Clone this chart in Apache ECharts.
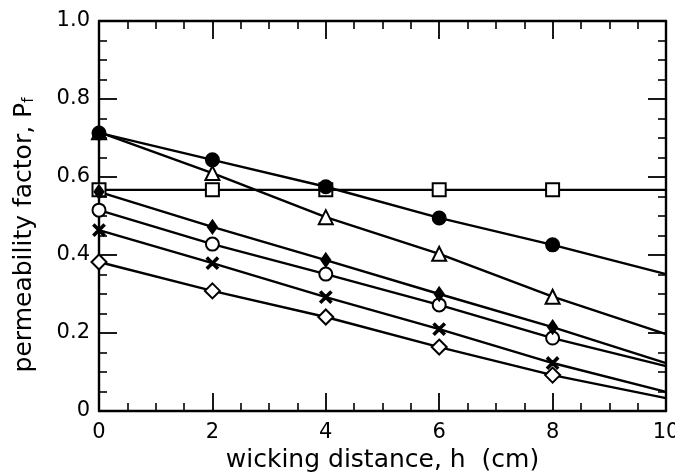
<!DOCTYPE html>
<html>
<head>
    <meta charset="UTF-8">
    <title></title>
    <style type="text/css">
        html, body { margin: 0; padding: 0; background: #fff; }
    </style>
</head>
<body>
<div id='mychart' style="width: 675px;height:472px;"></div>
<script src='https://cdn.jsdelivr.net/npm/echarts@6/dist/echarts.min.js'></script>
<script>
    // wicking distance h (cm) where markers were measured, plus line end at 10
    var hValues = [0, 2, 4, 6, 8];
    var hEnd = 10;

    // permeability factor per series
    var filledCircle = [0.713, 0.644, 0.575, 0.495, 0.426];
    var openTriangle = [0.715, 0.610, 0.497, 0.403, 0.293];
    var openSquare = [0.567, 0.567, 0.567, 0.567, 0.567];
    var filledDiamond = [0.562, 0.472, 0.387, 0.300, 0.215];
    var openCircle = [0.515, 0.428, 0.351, 0.272, 0.187];
    var crossMark = [0.464, 0.379, 0.292, 0.210, 0.123];
    var openDiamond = [0.382, 0.308, 0.241, 0.164, 0.092];
    // value of each fitted line at h = 10 (no marker there)
    var lineEnds = [0.351, 0.197, 0.567, 0.123, 0.115, 0.049, 0.033];

    var xTicks = ['0', '2', '4', '6', '8', '10'];
    var yTicks = ['0', '0.2', '0.4', '0.6', '0.8', '1.0'];

    var crossPath = 'path://M0,1 L1,0 L5,4 L9,0 L10,1 L6,5 L10,9 L9,10 L5,6 L1,10 L0,9 L4,5 Z';

    function build(vals, end) {
        var d = hValues.map(function (h, i) { return [h, vals[i]]; });
        d.push({value: [hEnd, end], symbol: 'none'});
        return d;
    }

    function mkSeries(name, vals, end, symbol, size, fill) {
        return {
            name: name,
            type: 'line',
            data: build(vals, end),
            symbol: symbol,
            symbolSize: size,
            showAllSymbol: true,
            lineStyle: {color: '#000', width: 2.4},
            itemStyle: {color: fill, borderColor: '#000', borderWidth: 2},
            emphasis: {disabled: true},
            z: 3
        };
    }

    var font = 'DejaVu Sans';

    function ticks() {
        return {
            axisLine: {show: true, onZero: false, lineStyle: {color: '#000', width: 2.4}},
            axisTick: {show: true, inside: true, length: 18, lineStyle: {color: '#000', width: 1.8}},
            minorTick: {show: true, splitNumber: 4, length: 8, lineStyle: {color: '#000', width: 1.6}},
            splitLine: {show: false}
        };
    }

    var option = {
        backgroundColor: '#fff',
        animation: false,
        grid: {left: 99, right: 9, top: 21, bottom: 61, outerBoundsMode: 'none', containLabel: false},
        xAxis: [
            Object.assign({
                type: 'value', min: 0, max: 10, interval: 2, position: 'bottom',
                name: 'wicking distance, h  (cm)',
                nameLocation: 'middle', nameGap: 32,
                nameTextStyle: {fontFamily: font, fontSize: 25, color: '#000'},
                axisLabel: {
                    color: '#000', fontFamily: font, fontSize: 21, margin: 11,
                    formatter: function (v) { return xTicks[Math.round(v / 2)]; }
                }
            }, ticks()),
            Object.assign({
                type: 'value', min: 0, max: 10, interval: 2, position: 'top',
                axisLabel: {show: false}
            }, ticks())
        ],
        yAxis: [
            Object.assign({
                type: 'value', min: 0, max: 1, interval: 0.2, position: 'left',
                name: 'permeability factor, {p|P}{s|f}',
                nameLocation: 'middle', nameGap: 62, nameRotate: 90,
                nameTextStyle: {
                    fontFamily: font, fontSize: 25, color: '#000',
                    padding: [0, 38, 0, 0],
                    rich: {
                        p: {fontFamily: font, fontSize: 25, color: '#000'},
                        s: {fontFamily: font, fontSize: 15, color: '#000', verticalAlign: 'bottom', padding: [10, 0, 0, 0]}
                    }
                },
                axisLabel: {
                    color: '#000', fontFamily: font, fontSize: 21, margin: 9,
                    formatter: function (v) { return yTicks[Math.round(v * 5)]; }
                }
            }, ticks()),
            Object.assign({
                type: 'value', min: 0, max: 1, interval: 0.2, position: 'right',
                axisLabel: {show: false}
            }, ticks())
        ],
        series: [
            mkSeries('open diamond', openDiamond, lineEnds[6], 'diamond', 15, '#fff'),
            mkSeries('cross', crossMark, lineEnds[5], crossPath, 11, '#000'),
            mkSeries('open circle', openCircle, lineEnds[4], 'circle', 13, '#fff'),
            mkSeries('open square', openSquare, lineEnds[2], 'rect', 13, '#fff'),
            mkSeries('filled diamond', filledDiamond, lineEnds[3], 'diamond', [9, 13], '#000'),
            mkSeries('open triangle', openTriangle, lineEnds[1], 'triangle', 14, '#fff'),
            mkSeries('filled circle', filledCircle, lineEnds[0], 'circle', 13, '#000')
        ]
    };

    var mychart = echarts.init(document.getElementById('mychart'));
    mychart.setOption(option);
</script>
</body>
</html>
